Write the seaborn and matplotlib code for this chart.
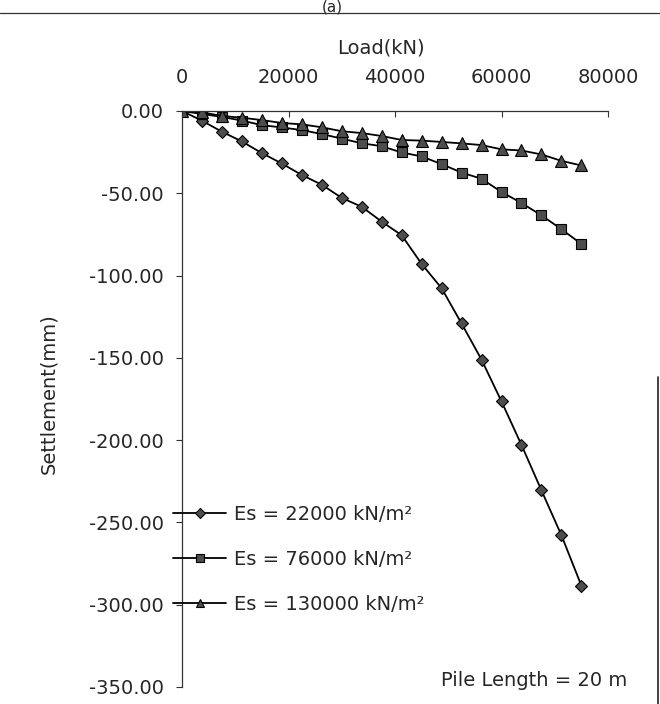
import numpy as np
import matplotlib
matplotlib.use("Agg")
import matplotlib.pyplot as plt
import seaborn as sns
from matplotlib.lines import Line2D
from matplotlib.ticker import FormatStrFormatter

# load steps (kN)
load_kn = [0, 3750, 7500, 11250, 15000, 18750, 22500, 26250, 30000, 33750, 37500,
           41250, 45000, 48750, 52500, 56250, 60000, 63750, 67500, 71250, 75000]

# settlement (mm)
es_22000 = [0, -5.9, -12.6, -18.5, -25.6, -31.9, -38.9, -44.8, -52.8, -58.2, -67.2,
            -75.5, -92.9, -107.7, -129.1, -151.1, -176.5, -202.9, -230.5, -257.8, -288.4]
es_76000 = [0, -1.8, -3.6, -5.8, -8.6, -10.0, -11.6, -14.0, -16.8, -19.6, -21.4,
            -25.2, -27.6, -32.3, -37.4, -41.2, -49.2, -55.9, -63.4, -71.8, -80.8]
es_130000 = [0, -0.8, -3.0, -4.1, -5.5, -7.3, -8.1, -9.9, -12.3, -13.4, -15.2,
             -17.6, -18.0, -18.8, -19.7, -20.7, -23.3, -24.0, -26.4, -30.3, -33.1]

series_labels = ["Es = 22000 kN/m²", "Es = 76000 kN/m²", "Es = 130000 kN/m²"]
series_markers = ["D", "s", "^"]
series_sizes = [6, 7, 8]

sns.set_style("white")
plt.rcParams["font.family"] = ["DejaVu Sans"]
plt.rcParams["axes.unicode_minus"] = False

fig = plt.figure(figsize=(6.6, 7.04), dpi=100)
ax = fig.add_axes([182 / 660, 17 / 704, 426 / 660, 576 / 704])

for vals, mk, ms, lab in zip([es_22000, es_76000, es_130000], series_markers,
                             series_sizes, series_labels):
    sns.lineplot(x=load_kn, y=vals, ax=ax, color="black", linewidth=1.3,
                 marker=mk, markersize=ms, markerfacecolor="#4d4d4d",
                 markeredgecolor="black", markeredgewidth=0.8, label=lab)

ax.set_xlim(0, 80000)
ax.set_ylim(-350, 0)
ax.xaxis.tick_top()
ax.xaxis.set_label_position("top")
ax.set_xticks([0, 20000, 40000, 60000, 80000])
ax.set_yticks(np.arange(-350, 1, 50))
ax.yaxis.set_major_formatter(FormatStrFormatter("%.2f"))

for s in ["right", "bottom"]:
    ax.spines[s].set_visible(False)
for s in ["top", "left"]:
    ax.spines[s].set_color("#333333")
    ax.spines[s].set_linewidth(0.9)

ax.tick_params(axis="x", top=True, bottom=False, direction="in", length=4,
               pad=17, labelsize=14, color="#333333")
ax.tick_params(axis="y", left=True, direction="out", length=4, pad=9,
               labelsize=14, color="#333333")

ax.set_xlabel("Load(kN)", fontsize=14)
ax.set_ylabel("Settlement(mm)", fontsize=14)
ax.xaxis.set_label_coords(0.467, 1.10)
ax.yaxis.set_label_coords(-0.291, 0.51)

ax.legend(loc="upper left", bbox_to_anchor=(-0.02, 0.316), frameon=False,
          fontsize=14, handlelength=2.7, handletextpad=0.4, labelspacing=1.33,
          borderpad=0, borderaxespad=0, markerscale=0.8)

fig.text(0.95, 0.034, "Pile Length = 20 m", ha="right", va="center", fontsize=14)

# bits of the scanned page around the panel
fig.text(0.503, 1.0, "(a)", ha="center", va="top", fontsize=11)
fig.add_artist(Line2D([0, 1], [1 - 13 / 704, 1 - 13 / 704], color="#333333", linewidth=0.9))
fig.add_artist(Line2D([0.997, 0.997], [0, 0.464], color="#222222", linewidth=1.2))

fig.savefig("out.png", dpi=100)
